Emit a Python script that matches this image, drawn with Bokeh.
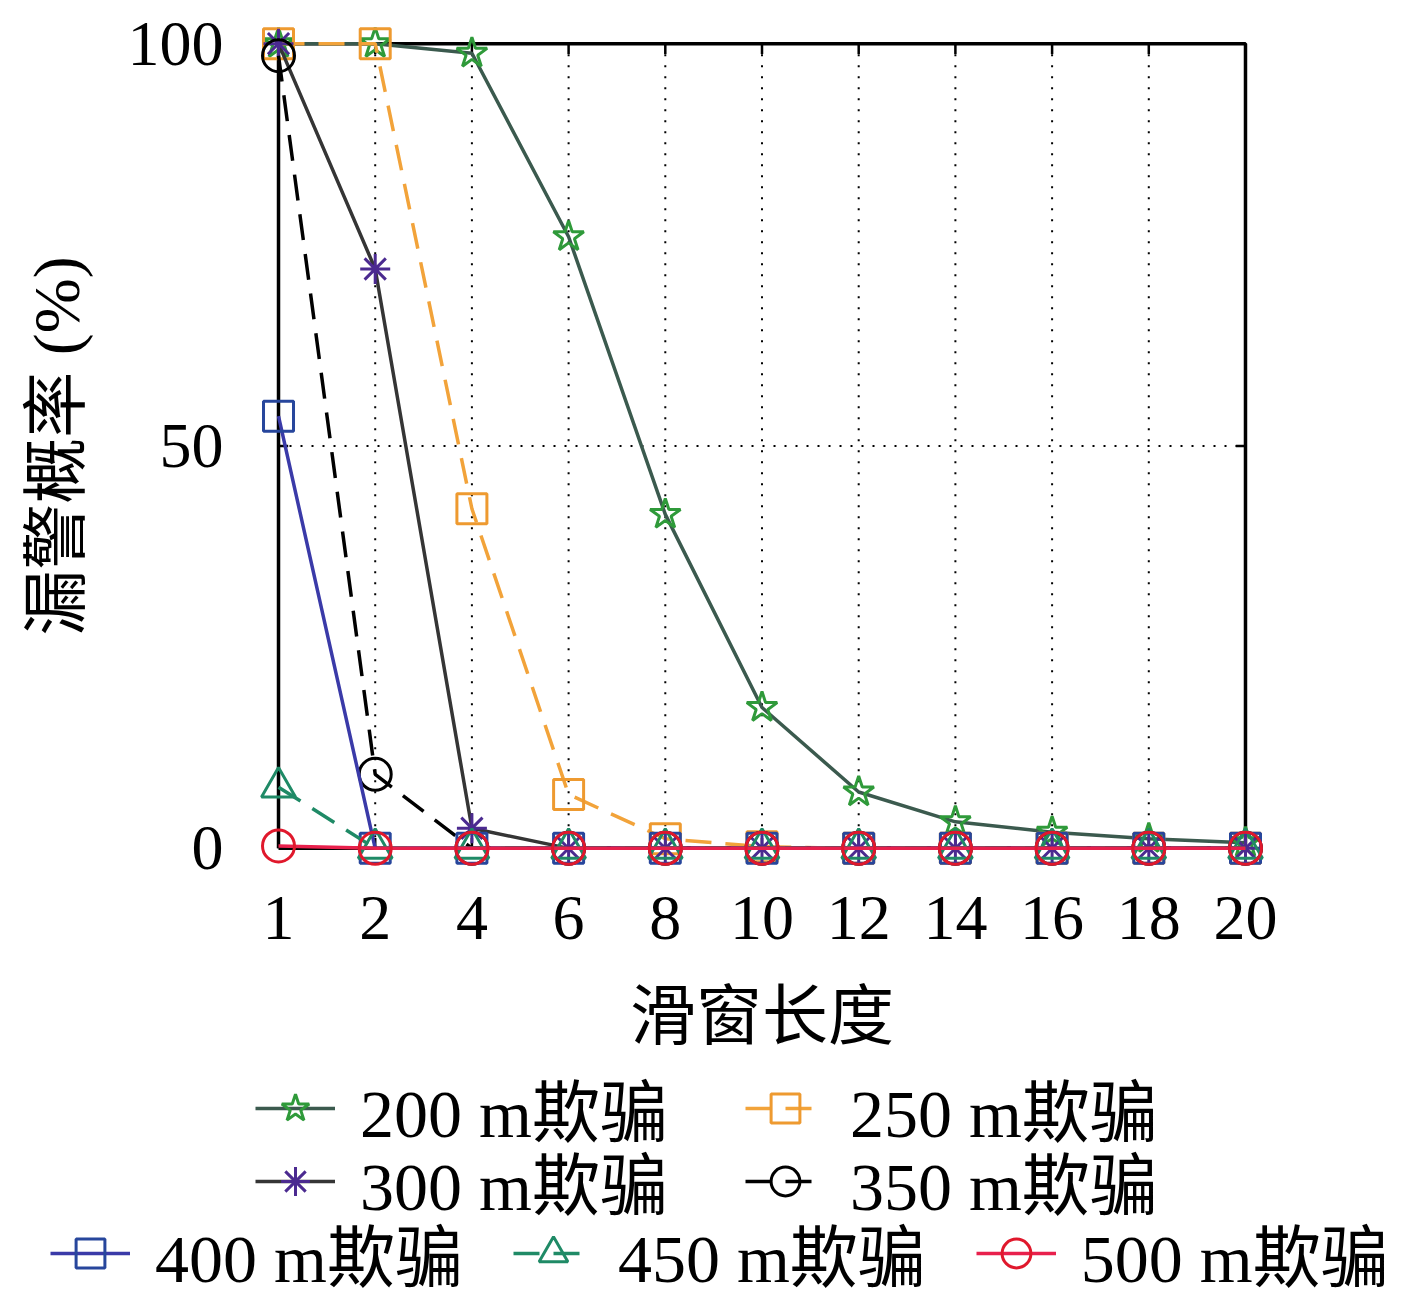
from bokeh.plotting import figure
from bokeh.models import Legend, LegendItem, FixedTicker, Range1d
from bokeh.layouts import column
from bokeh.embed import file_html
from bokeh.resources import INLINE

# ---- data ----
window_lengths = ["1", "2", "4", "6", "8", "10", "12", "14", "16", "18", "20"]
y_ticks = [0, 50, 100]
miss_200 = [100, 100, 98.8, 76.0, 41.5, 17.5, 7.0, 3.3, 2.0, 1.2, 0.7]
miss_250 = [100, 100, 42.2, 6.7, 1.2, 0.2, 0, 0, 0, 0, 0]
miss_300 = [100, 72.0, 2.5, 0, 0, 0, 0, 0, 0, 0, 0]
miss_350 = [98.5, 9.2, 0, 0, 0, 0, 0, 0, 0, 0, 0]
miss_400 = [53.7, 0, 0, 0, 0, 0, 0, 0, 0, 0, 0]
miss_450 = [7.6, 0, 0, 0, 0, 0, 0, 0, 0, 0, 0]
miss_500 = [0.3, 0, 0, 0, 0, 0, 0, 0, 0, 0, 0]
series_labels = ["200 m欺骗", "250 m欺骗", "300 m欺骗", "350 m欺骗",
                 "400 m欺骗", "450 m欺骗", "500 m欺骗"]

xs = list(range(len(window_lengths)))
X0, X1 = xs[0], xs[-1]
Y0, Y1 = y_ticks[0], y_ticks[-1]

FONT = "Liberation Serif, Noto Sans CJK SC"
W = 1400
H_MAIN = 1068
H_LEG = 242

p = figure(width=W, height=H_MAIN, output_backend="svg", toolbar_location=None,
           x_range=Range1d(X0 - 0.3, X1 + 0.3), y_range=Range1d(Y0 - 3, Y1 + 3),
           min_border_left=249, min_border_right=126, min_border_top=19,
           min_border_bottom=H_MAIN - 872)
p.frame_align = False
p.outline_line_color = None
p.background_fill_color = "white"
p.border_fill_color = "white"
p.xgrid.visible = False
p.ygrid.visible = False

# axes
p.xaxis.ticker = FixedTicker(ticks=xs)
p.xaxis.major_label_overrides = {i: t for i, t in zip(xs, window_lengths)}
p.yaxis.ticker = FixedTicker(ticks=y_ticks)
for ax in (p.xaxis[0], p.yaxis[0]):
    ax.axis_line_color = None
    ax.major_tick_line_color = None
    ax.minor_tick_line_color = None
    ax.major_label_text_font = FONT
    ax.major_label_text_font_size = "64px"
    ax.major_label_text_color = "black"
    ax.axis_label_text_font = FONT
    ax.axis_label_text_font_size = "66px"
    ax.axis_label_text_font_style = "normal"
    ax.axis_label_text_color = "black"
p.xaxis.axis_label = "滑窗长度"
p.yaxis.axis_label = "漏警概率 (%)"
p.xaxis.major_label_standoff = 18
p.xaxis.axis_label_standoff = 38
p.yaxis.major_label_standoff = 20
p.yaxis.axis_label_standoff = 32

# dotted grid (inside the data box)
inner = xs[1:-1]
p.segment(x0=inner, y0=[Y0] * len(inner), x1=inner, y1=[Y1] * len(inner),
          line_color="black", line_width=2, line_dash="2 9")
p.segment(x0=[X0], y0=[y_ticks[1]], x1=[X1], y1=[y_ticks[1]],
          line_color="black", line_width=2, line_dash="2 9")
# inward ticks
tl = 1.3
p.segment(x0=xs, y0=[Y1] * len(xs), x1=xs, y1=[Y1 - tl] * len(xs),
          line_color="black", line_width=2.5)
p.segment(x0=xs, y0=[Y0] * len(xs), x1=xs, y1=[Y0 + tl] * len(xs),
          line_color="black", line_width=2.5)
p.segment(x0=[X0, X1], y0=[y_ticks[1]] * 2, x1=[X0 + 0.1, X1 - 0.1], y1=[y_ticks[1]] * 2,
          line_color="black", line_width=2.5)
# box
p.multi_line(xs=[[X0, X1, X1, X0, X0]], ys=[[Y0, Y0, Y1, Y1, Y0]],
             line_color="black", line_width=3.5)

styles = [
    (miss_200, "#3b5a4e", None, "star", "#2f9a3a", 32),
    (miss_250, "#f2a33a", "26 14", "square", "#ee9a30", 30),
    (miss_300, "#353535", None, "asterisk", "#4b2a90", 30),
    (miss_350, "black", "26 14", "circle", "black", 32),
    (miss_400, "#3a3aa8", None, "square", "#27469c", 30),
    (miss_450, "#1f8a66", "26 14", "triangle", "#1f8a66", 34),
    (miss_500, "#e8204c", None, "circle", "#e0182c", 32),
]

# legend figure (renderers kept out of its visible range; used only for legend glyphs)
q = figure(width=W, height=H_LEG, output_backend="svg", toolbar_location=None,
           x_range=Range1d(1000, 1001), y_range=Range1d(1000, 1001),
           x_axis_location=None, y_axis_location=None,
           min_border=0, min_border_left=0, min_border_right=0,
           min_border_top=0, min_border_bottom=0)
q.frame_align = False
q.outline_line_color = None
q.background_fill_color = "white"
q.border_fill_color = "white"
q.xgrid.visible = False
q.ygrid.visible = False

items = []
for (vals, lc, dash, mk, mc, sz), lab in zip(styles, series_labels):
    kw = dict(line_color=lc, line_width=3.5)
    if dash:
        kw["line_dash"] = dash
    p.line(xs, vals, **kw)
    p.scatter(xs, vals, marker=mk, size=sz, line_color=mc, line_width=3,
              fill_color=None)
    r1 = q.line(xs, vals, **kw)
    r2 = q.scatter(xs, vals, marker=mk, size=sz, line_color=mc, line_width=3,
                   fill_color=None)
    items.append(LegendItem(label=lab, renderers=[r1, r2]))

def make_legend(its, loc, spacing):
    lg = Legend(items=its, location=loc, orientation="horizontal")
    lg.label_text_font = FONT
    lg.label_text_font_size = "68px"
    lg.label_text_color = "black"
    lg.glyph_width = 80
    lg.glyph_height = 72
    lg.label_height = 70
    lg.label_standoff = 25
    lg.spacing = spacing
    lg.padding = 0
    lg.margin = 0
    lg.border_line_color = None
    lg.background_fill_color = None
    lg.background_fill_alpha = 0
    return lg

shift = 1080 - H_MAIN
q.add_layout(make_legend(items[0:2], (255, H_LEG - 77 - shift), 77))
q.add_layout(make_legend(items[2:4], (255, H_LEG - 150 - shift), 77))
q.add_layout(make_legend(items[4:7], (50, H_LEG - 222 - shift), 50))

open("out.html", "w").write(file_html(column(p, q), INLINE))
